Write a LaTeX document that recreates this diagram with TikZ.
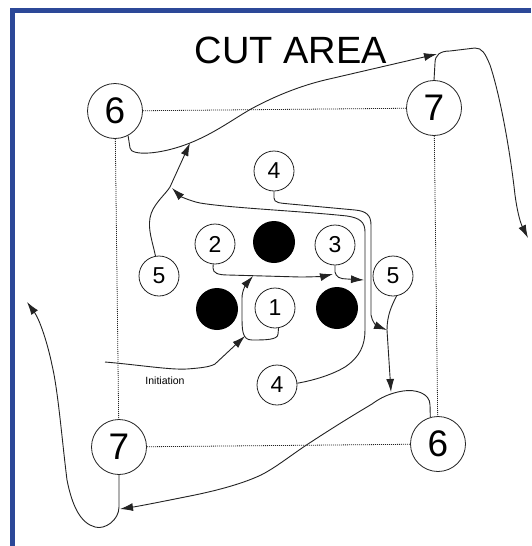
\documentclass[tikz,border=0pt]{standalone}
\usepackage{fontspec}
\setmainfont{Liberation Sans}
\usetikzlibrary{arrows.meta}
\definecolor{frameblue}{RGB}{44,72,152}
\definecolor{ink}{RGB}{35,35,35}
\begin{document}
\begin{tikzpicture}[x=1pt,y=-1pt,
  big/.style={circle,draw=ink,fill=white,line width=0.8pt,minimum size=55pt,inner sep=0pt,font=\fontsize{37}{37}\selectfont},
  small/.style={circle,draw=ink,fill=white,line width=0.8pt,minimum size=40pt,inner sep=0pt,font=\fontsize{23}{23}\selectfont},
  post/.style={circle,fill=black,minimum size=42pt,inner sep=0pt},
  dotline/.style={ink,line width=0.8pt,dash pattern=on 0.9pt off 1.1pt},
  flow/.style={ink,line width=0.9pt,-{Latex[length=13pt,width=8pt]}},
  plain/.style={ink,line width=0.9pt}]
\useasboundingbox (0,0) rectangle (531,546);
\fill[white] (0,0) rectangle (531,546);
\draw[frameblue,line width=5.4pt] (12.6,546) -- (12.6,10.2) -- (531,10.2);

% title
\node[anchor=base,inner sep=0pt,font=\fontsize{38}{38}\selectfont] (title) at (291,63) {CUT AREA};
\node[anchor=base,inner sep=0pt,font=\fontsize{10.5}{10.5}\selectfont] (inittext) at (165,384) {Initiation};

% nodes
\node[big] (c6a) at (115,111) {6};
\node[big] (c7a) at (434,108) {7};
\node[big] (c7b) at (119,447) {7};
\node[big] (c6b) at (438,444) {6};
\node[small] (n4a) at (274,171) {4};
\node[small] (n2) at (215,244) {2};
\node[post] (b1) at (274,242) {};
\node[small] (n3) at (335,245) {3};
\node[small] (n5a) at (159,276) {5};
\node[small] (n5b) at (393,276) {5};
\node[post] (b2) at (217,309) {};
\node[small] (n1) at (275,308) {1};
\node[post] (b3) at (337,308) {};
\node[small] (n4b) at (277,385) {4};

% dotted cut-area rectangle
\draw[dotline] (c6a) -- (c7a);
\draw[dotline] (c6a) -- (c7b);
\draw[dotline] (c7a) -- (c6b);
\draw[dotline] (c7b) -- (c6b);

% coordinates for free ends
\coordinate (t7a) at (437,54);
\coordinate (t7b) at (528,238);
\coordinate (t7c) at (27,302);
\coordinate (t7d) at (120,509);
\coordinate (t5b) at (391,392);
\coordinate (m5b) at (387,330);
\coordinate (t4b) at (172,188);
\coordinate (m6a) at (190,143);
\coordinate (t3) at (333,274);
\coordinate (m23) at (253,276);
\coordinate (init) at (105,362);
\coordinate (m1) at (245,336);
\coordinate (m3) at (364,280);

% 6 (top left) -> 7 (top right)
\draw[flow] (c6a.-62) -- (130,148) .. controls (131,156) and (160,155) .. (m6a)
  .. controls (215,133) and (235,118) .. (251,109)
  .. controls (275,96) and (300,86) .. (325,80) -- (t7a);
% 7 (top right) -> down right
\draw[flow] (c7a.north) -- (435,63) .. controls (435,55) and (440,51) .. (450,51) -- (475,48)
  .. controls (482,48) and (485,53) .. (490,65)
  .. controls (500,95) and (510,150) .. (515,195)
  .. controls (517,210) and (520,222) .. (t7b);
% 7 (bottom left) -> up left
\draw[flow] (c7b.south) -- (119,507) .. controls (119,520) and (105,530) .. (95,527)
  .. controls (80,523) and (72,505) .. (67,480)
  .. controls (62,440) and (58,390) .. (52,365)
  .. controls (48,345) and (40,320) .. (t7c);
% 6 (bottom right) -> 7 (bottom left)
\draw[flow] (c6b.106) -- (430,405) .. controls (430,393) and (415,389) .. (403,391)
  .. controls (390,393) and (380,398) .. (372,404)
  .. controls (345,420) and (320,436) .. (305,446)
  .. controls (290,456) and (275,468) .. (261,475)
  .. controls (240,485) and (210,492) .. (190,496)
  .. controls (165,501) and (140,506) .. (t7d);
% 5 (right) -> down
\draw[flow] (n5b.-80) .. controls (392,305) and (387,315) .. (m5b) -- (t5b);
% 4 (top) -> 5 line
\draw[flow] (n4a.south) -- (274,198) .. controls (274,203) and (280,203) .. (290,204) -- (355,210)
  .. controls (366,211) and (371,215) .. (371,225) -- (371,315)
  .. controls (372,322) and (377,326) .. (m5b);
% 4 (bottom) -> up left
\draw[flow] (n4b.5) .. controls (310,381) and (330,376) .. (345,367)
  .. controls (360,357) and (365,345) .. (365,330) -- (365,232)
  .. controls (365,222) and (360,218) .. (347,216)
  .. controls (300,211) and (230,208) .. (200,203)
  .. controls (190,201) and (180,196) .. (t4b);
% 5 (left) -> 6 line
\draw[flow] (n5a.100) .. controls (152,240) and (148,230) .. (150,218)
  .. controls (152,205) and (165,195) .. (170,187) -- (m6a);
% 2 -> 3
\draw[flow] (n2.-95) -- (213,268) .. controls (213,273) and (218,275) .. (228,275) -- (300,277)
  .. controls (315,277) and (325,276) .. (t3);
% 1 loop -> 2-3 line
\draw[flow] (n1.-80) -- (278,334) .. controls (278,340) and (265,340) .. (252,340)
  .. controls (242,340) and (242,330) .. (242,315) -- (242,298)
  .. controls (242,290) and (247,283) .. (m23);
% initiation
\draw[flow] (init) .. controls (140,365) and (170,370) .. (187,369)
  .. controls (200,368) and (210,367) .. (215,364) -- (m1);
% 3 -> inner line
\draw[flow] (n3.south) -- (335,272) .. controls (336,277) and (340,279) .. (347,279) -- (m3);
\end{tikzpicture}
\end{document}
